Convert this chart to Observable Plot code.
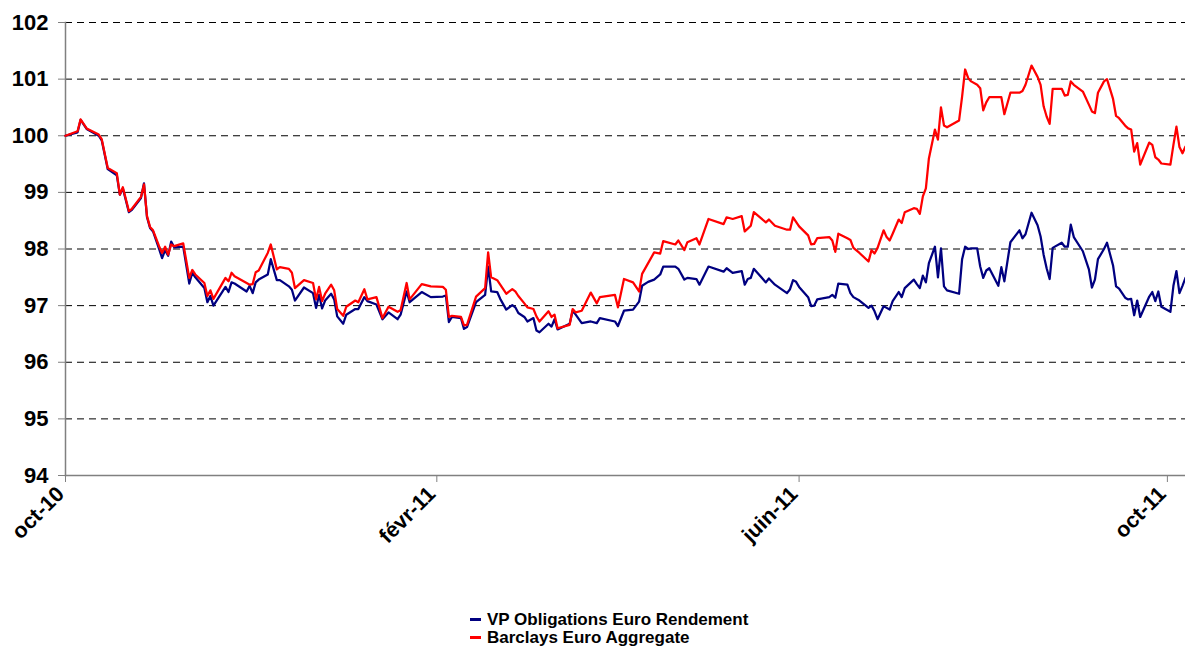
<!DOCTYPE html>
<html>
<head>
<meta charset="utf-8">
<script src="https://cdn.jsdelivr.net/npm/d3@7"></script>
<script src="https://cdn.jsdelivr.net/npm/@observablehq/plot@0.6"></script>
<style>
  html, body { margin: 0; padding: 0; background: #fff; }
  #wrap { position: relative; width: 1185px; height: 646px; overflow: hidden; font-family: "Liberation Sans", Arial, sans-serif; }
  #legend { position: absolute; left: 470px; top: 611px; font-weight: bold; font-size: 17px; line-height: 18px; color: #000; }
  #legend .row { white-space: nowrap; }
  #legend .sw { display: inline-block; width: 11px; height: 3px; vertical-align: middle; margin-right: 6px; position: relative; top: -1px; }
</style>
</head>
<body>
<div id="wrap">
  <div id="chart"></div>
  <div id="legend"></div>
</div>
<script>
const seriesNames = ["VP Obligations Euro Rendement", "Barclays Euro Aggregate"];
const seriesColors = ["#000080", "#FF0000"];

const dates = [
"2010-10-01","2010-10-05","2010-10-06","2010-10-08","2010-10-12","2010-10-13","2010-10-15","2010-10-18","2010-10-19","2010-10-20",
"2010-10-22","2010-10-23","2010-10-26","2010-10-27","2010-10-28","2010-10-29","2010-10-30","2010-11-01","2010-11-02","2010-11-03",
"2010-11-04","2010-11-05","2010-11-06","2010-11-09","2010-11-11","2010-11-12","2010-11-13","2010-11-16","2010-11-17","2010-11-18",
"2010-11-19","2010-11-23","2010-11-24","2010-11-25","2010-11-26","2010-11-30","2010-12-01","2010-12-02","2010-12-03","2010-12-04",
"2010-12-07","2010-12-08","2010-12-10","2010-12-11","2010-12-14","2010-12-15","2010-12-16","2010-12-19","2010-12-22","2010-12-23",
"2010-12-24","2010-12-25","2010-12-26","2010-12-28","2010-12-29","2010-12-30","2011-01-01","2011-01-02","2011-01-05","2011-01-06",
"2011-01-08","2011-01-09","2011-01-12","2011-01-14","2011-01-16","2011-01-19","2011-01-20","2011-01-22","2011-01-23","2011-01-27",
"2011-01-30","2011-02-03","2011-02-04","2011-02-05","2011-02-06","2011-02-09","2011-02-10","2011-02-11","2011-02-14","2011-02-17",
"2011-02-18","2011-02-19","2011-02-21","2011-02-22","2011-02-24","2011-02-26","2011-02-27","2011-02-28","2011-03-02","2011-03-03",
"2011-03-05","2011-03-06","2011-03-07","2011-03-10","2011-03-11","2011-03-12","2011-03-13","2011-03-17","2011-03-18","2011-03-19",
"2011-03-21","2011-03-24","2011-03-26","2011-03-27","2011-04-01","2011-04-02","2011-04-04","2011-04-07","2011-04-09","2011-04-10",
"2011-04-12","2011-04-14","2011-04-16","2011-04-17","2011-04-21","2011-04-22","2011-04-24","2011-04-25","2011-04-28","2011-04-29",
"2011-05-02","2011-05-07","2011-05-08","2011-05-10","2011-05-13","2011-05-14","2011-05-15","2011-05-16","2011-05-17","2011-05-21",
"2011-05-22","2011-05-24","2011-05-28","2011-05-29","2011-05-30","2011-05-31","2011-06-01","2011-06-04","2011-06-05","2011-06-06",
"2011-06-07","2011-06-11","2011-06-12","2011-06-13","2011-06-14","2011-06-17","2011-06-18","2011-06-19","2011-06-21","2011-06-24",
"2011-06-25","2011-06-26","2011-06-27","2011-06-29","2011-06-30","2011-07-01","2011-07-02","2011-07-04","2011-07-05","2011-07-06",
"2011-07-09","2011-07-10","2011-07-11","2011-07-12","2011-07-13","2011-07-14","2011-07-16","2011-07-17","2011-07-18","2011-07-19",
"2011-07-20","2011-07-24","2011-07-25","2011-07-26","2011-07-27","2011-07-28","2011-07-30","2011-07-31","2011-08-01","2011-08-02",
"2011-08-03","2011-08-06","2011-08-07","2011-08-08","2011-08-10","2011-08-13","2011-08-14","2011-08-15","2011-08-17","2011-08-19",
"2011-08-20","2011-08-21","2011-08-22","2011-08-23","2011-08-24","2011-08-27","2011-08-28","2011-08-29","2011-08-30","2011-08-31",
"2011-09-03","2011-09-05","2011-09-06","2011-09-07","2011-09-08","2011-09-10","2011-09-11","2011-09-13","2011-09-14","2011-09-15",
"2011-09-17","2011-09-18","2011-09-19","2011-09-20","2011-09-21","2011-09-22","2011-09-25","2011-09-26","2011-09-27","2011-09-28",
"2011-09-29","2011-10-02","2011-10-03","2011-10-04","2011-10-05","2011-10-06","2011-10-07"
];

const vpObligations = [
100.00,100.06,100.28,100.12,100.00,99.92,99.41,99.30,98.96,99.07,
98.65,98.69,98.90,99.16,98.56,98.37,98.31,98.00,97.84,97.98,
97.88,98.13,98.03,98.04,97.39,97.58,97.50,97.31,97.06,97.17,
97.00,97.33,97.24,97.41,97.39,97.25,97.35,97.22,97.41,97.46,
97.55,97.82,97.45,97.45,97.34,97.28,97.09,97.32,97.22,96.96,
97.19,96.95,97.09,97.21,97.11,96.81,96.68,96.84,96.94,96.94,
97.15,97.08,97.02,96.76,96.88,96.76,96.84,97.25,97.06,97.24,
97.15,97.16,97.18,96.71,96.80,96.78,96.59,96.62,97.06,97.19,
97.69,97.25,97.24,97.12,96.93,97.01,96.97,96.87,96.80,96.72,
96.78,96.56,96.53,96.68,96.63,96.76,96.58,96.68,96.91,96.84,
96.69,96.72,96.69,96.78,96.72,96.64,96.91,96.93,97.07,97.35,
97.42,97.46,97.55,97.69,97.69,97.65,97.46,97.49,97.47,97.37,
97.69,97.60,97.66,97.58,97.61,97.37,97.47,97.49,97.65,97.41,
97.48,97.37,97.22,97.29,97.45,97.42,97.33,97.15,96.99,97.00,
97.11,97.15,97.19,97.14,97.39,97.37,97.22,97.15,97.09,96.96,
97.00,96.90,96.76,96.99,96.96,96.93,97.08,97.24,97.15,97.31,
97.46,97.38,97.31,97.53,97.41,97.75,98.04,97.50,98.01,97.34,
97.27,97.21,97.82,98.04,98.00,98.01,98.01,97.69,97.49,97.62,
97.66,97.35,97.68,97.43,98.12,98.33,98.19,98.26,98.64,98.42,
98.22,97.90,97.66,97.47,98.02,98.11,98.04,98.04,98.43,98.21,
97.96,97.64,97.32,97.46,97.82,98.00,98.11,97.71,97.34,97.30,
97.14,97.11,97.12,96.83,97.09,96.80,97.16,97.24,97.08,97.25,
96.98,96.89,97.35,97.61,97.22,97.35,97.49
];

const barclaysAggregate = [
100.00,100.08,100.29,100.13,100.02,99.94,99.43,99.34,98.96,99.09,
98.67,98.71,98.92,99.14,98.58,98.39,98.33,98.05,97.93,98.04,
97.90,98.08,98.05,98.10,97.49,97.63,97.55,97.40,97.17,97.27,
97.12,97.49,97.43,97.58,97.52,97.40,97.37,97.38,97.59,97.62,
97.93,98.08,97.64,97.68,97.65,97.58,97.31,97.45,97.40,97.11,
97.33,97.08,97.21,97.37,97.27,96.94,96.82,96.98,97.09,97.06,
97.29,97.11,97.15,96.78,96.98,96.89,96.92,97.40,97.11,97.38,
97.34,97.33,97.28,96.80,96.82,96.80,96.65,96.66,97.16,97.31,
97.94,97.50,97.45,97.37,97.21,97.29,97.25,97.17,97.04,96.97,
96.94,96.81,96.72,96.90,96.80,96.84,96.60,96.66,96.94,96.88,
96.91,97.23,97.04,97.15,97.19,96.97,97.47,97.41,97.25,97.56,
97.75,97.94,97.92,98.14,98.08,98.15,97.98,98.12,98.19,98.08,
98.53,98.44,98.56,98.53,98.58,98.31,98.36,98.41,98.65,98.47,
98.52,98.41,98.34,98.34,98.56,98.48,98.40,98.24,98.08,98.09,
98.19,98.21,98.15,97.95,98.27,98.19,98.16,98.02,97.93,97.78,
97.98,97.92,98.02,98.33,98.21,98.15,98.27,98.52,98.46,98.65,
98.72,98.71,98.62,98.93,99.07,99.60,100.11,99.93,100.50,100.18,
100.15,100.27,100.69,101.17,101.02,100.96,100.90,100.84,100.45,100.59,
100.68,100.68,100.68,100.38,100.76,100.76,100.79,100.90,101.24,101.04,
100.90,100.52,100.34,100.21,100.83,100.83,100.71,100.72,100.96,100.90,
100.78,100.55,100.43,100.40,100.76,100.96,101.00,100.65,100.35,100.31,
100.18,100.13,100.11,99.72,99.87,99.49,99.88,99.84,99.62,99.58,
99.51,99.49,99.84,100.16,99.80,99.69,99.81
];

const yTicks = [94, 95, 96, 97, 98, 99, 100, 101, 102];
const xTickDates = ["2010-10-01", "2011-02-01", "2011-06-01", "2011-10-01"];
const xTickLabels = ["oct-10", "févr-11", "juin-11", "oct-11"];
const xDomain = ["2010-10-01", "2011-10-07"];

const parse = d3.utcParse("%Y-%m-%d");
const table = dates.map((d, i) => ({date: parse(d), vp: vpObligations[i], barclays: barclaysAggregate[i]}));
const tickDates = xTickDates.map(parse);
const labelOf = new Map(tickDates.map((d, i) => [+d, xTickLabels[i]]));

const chart = Plot.plot({
  width: 1185,
  height: 605,
  marginTop: 22,
  marginBottom: 130,
  marginLeft: 65,
  marginRight: 0,
  style: {fontFamily: "'Liberation Sans', Arial, sans-serif", background: "#fff", color: "#000", overflow: "visible"},
  x: {type: "utc", domain: xDomain.map(parse)},
  y: {domain: [yTicks[0], yTicks[yTicks.length - 1]]},
  marks: [
    Plot.gridY(yTicks.slice(1), {stroke: "#000", strokeOpacity: 1, strokeWidth: 1, strokeDasharray: "7,5"}),
    Plot.frame({anchor: "left", stroke: "#808080", strokeWidth: 1.5}),
    Plot.frame({anchor: "bottom", stroke: "#808080", strokeWidth: 1.5}),
    Plot.axisY(yTicks, {tickSize: 7, tickPadding: 10, stroke: "#808080", fill: "#000", fontSize: 22, fontWeight: "bold", tickFormat: d3.format("d"), label: null}),
    Plot.axisX(tickDates, {tickSize: 7, stroke: "#808080", tickFormat: () => "", label: null}),
    Plot.axisX(tickDates, {tickSize: 0, tickPadding: 13, fill: "#000", tickRotate: -45, fontSize: 21.5, fontWeight: "bold", dx: -5, dy: 2, tickFormat: d => labelOf.get(+d), label: null}),
    Plot.line(table, {x: "date", y: "vp", stroke: seriesColors[0], strokeWidth: 2.25}),
    Plot.line(table, {x: "date", y: "barclays", stroke: seriesColors[1], strokeWidth: 2.25})
  ]
});
document.getElementById("chart").appendChild(chart);

const legend = document.getElementById("legend");
seriesNames.forEach((name, i) => {
  const row = document.createElement("div");
  row.className = "row";
  const sw = document.createElement("span");
  sw.className = "sw";
  sw.style.background = seriesColors[i];
  row.appendChild(sw);
  row.appendChild(document.createTextNode(name));
  legend.appendChild(row);
});
</script>
</body>
</html>
